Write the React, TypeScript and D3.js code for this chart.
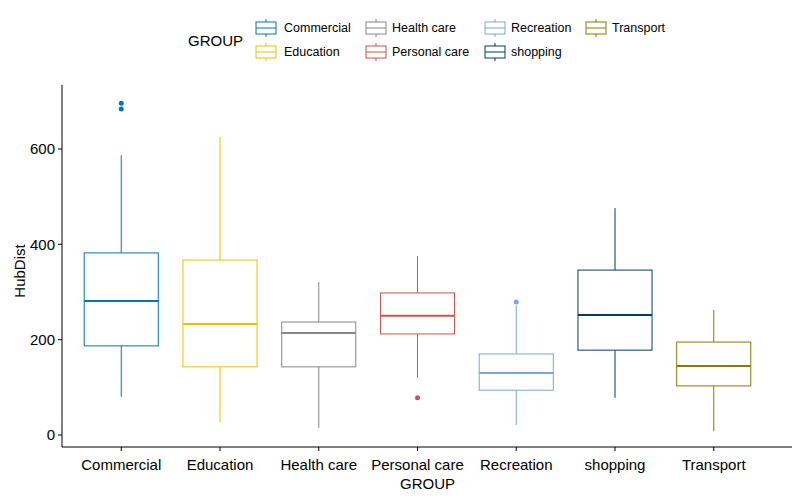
import React from "react";
import * as d3 from "d3";

const groups = ["Commercial","Education","Health care","Personal care","Recreation","shopping","Transport"];
const colors = ["#0073C2","#EFC000","#868686","#CD534C","#7AA6DC","#003C67","#8F7700"];
const lowW = [80,27,15,120,21,78,8];
const q1 = [187,143,143,212,94,178,103];
const med = [281,233,214,250,130,252,145];
const q3 = [382,367,237,298,170,346,195];
const highW = [587,625,321,375,272,476,262];
const outliers: number[][] = [[684,696],[],[],[78],[279],[],[]];
const yTicks = [0,200,400,600];

export default function App() {
  const W = 800, H = 500;
  const left = 62, right = 773, top = 85, bottom = 447;
  const x = d3.scalePoint<string>().domain(groups).range([left, right]).padding(0.6);
  const step = x.step();
  const bw = step * 0.75;
  const y = d3.scaleLinear().domain([0, 600]).range([435, 149]);
  const font = "Arial, 'Liberation Sans', sans-serif";
  const legendCols = [[253, 284], [363, 392], [482, 511], [583, 612]];
  return (
    <svg width={W} height={H} style={{ position: "absolute", left: 0, top: 0, background: "#fff" }} fontFamily={font}>
      <rect width={W} height={H} fill="#fff" />
      {groups.map((g, i) => {
        const cx = x(g)!;
        const c = colors[i];
        return (
          <g key={g} stroke={c} fill="none">
            <line x1={cx} x2={cx} y1={y(highW[i])} y2={y(q3[i])} />
            <line x1={cx} x2={cx} y1={y(q1[i])} y2={y(lowW[i])} />
            <rect x={cx - bw / 2} width={bw} y={y(q3[i])} height={y(q1[i]) - y(q3[i])} fill="#fff" />
            <line x1={cx - bw / 2} x2={cx + bw / 2} y1={y(med[i])} y2={y(med[i])} strokeWidth={2} />
            {outliers[i].map((o, j) => <circle key={j} cx={cx} cy={y(o)} r={2.5} fill={c} stroke="none" />)}
          </g>
        );
      })}
      <line x1={left} x2={left} y1={top} y2={bottom} stroke="#000" />
      <line x1={left} x2={792} y1={bottom} y2={bottom} stroke="#000" />
      {yTicks.map(t => (
        <g key={t}>
          <line x1={left - 4} x2={left} y1={y(t)} y2={y(t)} stroke="#000" />
          <text x={left - 7} y={y(t)} dy="0.35em" textAnchor="end" fontSize={15} fill="#000">{t}</text>
        </g>
      ))}
      {groups.map(g => (
        <g key={g}>
          <line x1={x(g)} x2={x(g)} y1={bottom} y2={bottom + 4} stroke="#000" />
          <text x={x(g)} y={bottom + 18} dy="0.35em" textAnchor="middle" fontSize={15} fill="#000">{g}</text>
        </g>
      ))}
      <text x={(left + right) / 2 + 10} y={484} dy="0.35em" textAnchor="middle" fontSize={15}>GROUP</text>
      <text transform={`translate(20,${(top + bottom) / 2 + 5}) rotate(-90)`} textAnchor="middle" dy="0.35em" fontSize={15}>HubDist</text>
      <text x={188} y={41} dy="0.35em" fontSize={15}>GROUP</text>
      {groups.map((g, i) => {
        const col = Math.floor(i / 2), row = i % 2;
        const [kx, tx] = legendCols[col];
        const cy = 28 + row * 24;
        const c = colors[i];
        return (
          <g key={g}>
            <g stroke={c} fill="#fff">
              <line x1={kx + 13} x2={kx + 13} y1={cy - 9} y2={cy + 9} />
              <rect x={kx + 3} y={cy - 6} width={20} height={12} />
              <line x1={kx + 3} x2={kx + 23} y1={cy} y2={cy} />
            </g>
            <text x={tx} y={cy} dy="0.35em" fontSize={12.5}>{g}</text>
          </g>
        );
      })}
    </svg>
  );
}
